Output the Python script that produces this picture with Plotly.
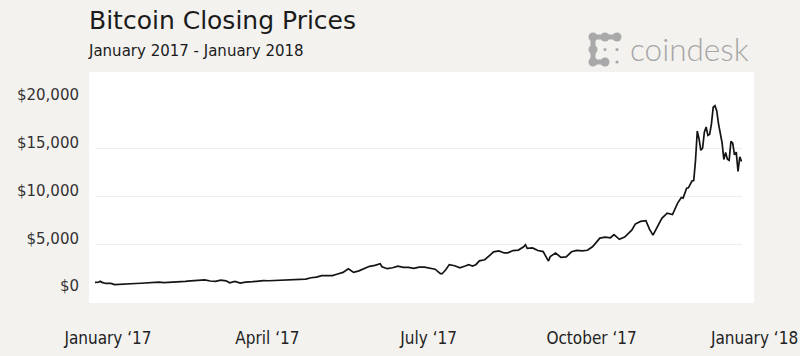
import plotly.graph_objects as go

# ---------------- data ----------------
dates = [
    "2017-01-01","2017-01-03","2017-01-04","2017-01-05","2017-01-07","2017-01-10","2017-01-12","2017-01-15",
    "2017-01-18","2017-01-21","2017-01-24","2017-01-27","2017-01-31",
    "2017-02-03","2017-02-06","2017-02-09","2017-02-12","2017-02-15","2017-02-18","2017-02-21","2017-02-24","2017-02-27",
    "2017-03-02","2017-03-04","2017-03-07","2017-03-10","2017-03-13","2017-03-16","2017-03-18","2017-03-21","2017-03-24",
    "2017-03-27","2017-03-31",
    "2017-04-03","2017-04-06","2017-04-09","2017-04-12","2017-04-15","2017-04-18","2017-04-21","2017-04-24","2017-04-27","2017-04-30",
    "2017-05-03","2017-05-06","2017-05-09","2017-05-12","2017-05-15","2017-05-18","2017-05-21","2017-05-24","2017-05-25",
    "2017-05-27","2017-05-30",
    "2017-06-02","2017-06-05","2017-06-08","2017-06-11","2017-06-12","2017-06-15","2017-06-18","2017-06-21","2017-06-24",
    "2017-06-27","2017-06-30",
    "2017-07-03","2017-07-06","2017-07-09","2017-07-12","2017-07-15","2017-07-16","2017-07-18","2017-07-20","2017-07-23",
    "2017-07-26","2017-07-29","2017-07-31",
    "2017-08-02","2017-08-04","2017-08-06","2017-08-09","2017-08-12","2017-08-14","2017-08-17","2017-08-20","2017-08-22",
    "2017-08-25","2017-08-28","2017-08-31",
    "2017-09-01","2017-09-02","2017-09-05","2017-09-08","2017-09-11","2017-09-14","2017-09-15","2017-09-18","2017-09-21",
    "2017-09-24","2017-09-27","2017-09-30",
    "2017-10-03","2017-10-06","2017-10-09","2017-10-12","2017-10-13","2017-10-16","2017-10-19","2017-10-21","2017-10-24",
    "2017-10-27","2017-10-31",
    "2017-11-02","2017-11-05","2017-11-08","2017-11-10","2017-11-12","2017-11-14","2017-11-17","2017-11-20","2017-11-23",
    "2017-11-26","2017-11-28","2017-11-29",
    "2017-12-01","2017-12-02","2017-12-03","2017-12-04","2017-12-05","2017-12-06","2017-12-07","2017-12-08","2017-12-09",
    "2017-12-10","2017-12-11","2017-12-12","2017-12-13","2017-12-14","2017-12-15","2017-12-16","2017-12-17","2017-12-18",
    "2017-12-19","2017-12-20","2017-12-21","2017-12-22","2017-12-23","2017-12-24","2017-12-25","2017-12-26","2017-12-27",
    "2017-12-28","2017-12-29","2017-12-30","2017-12-31","2018-01-01",
]
prices = [
    998, 1021, 1130, 1005, 895, 905, 780, 820,
    870, 920, 890, 918, 965,
    1010, 1025, 980, 1000, 1009, 1055, 1120, 1170, 1190,
    1220, 1260, 1150, 1110, 1235, 1175, 970, 1115, 935,
    1040, 1080,
    1145, 1195, 1180, 1205, 1185, 1210, 1250, 1250, 1345, 1350,
    1490, 1560, 1720, 1690, 1725, 1890, 2050, 2440, 2305,
    2050, 2210,
    2480, 2690, 2790, 2960, 2650, 2440, 2540, 2700, 2580,
    2580, 2480,
    2600, 2600, 2500, 2390, 1930, 1915, 2320, 2870, 2750,
    2530, 2720, 2870,
    2710, 2860, 3260, 3380, 3870, 4200, 4300, 4090, 4100,
    4340, 4390, 4730,
    4950, 4580, 4610, 4340, 4230, 3240, 3710, 4090, 3630,
    3670, 4210, 4360,
    4310, 4370, 4760, 5430, 5640, 5740, 5680, 6000, 5520,
    5760, 6470,
    7110, 7390, 7460, 6580, 5950, 6610, 7710, 8250, 8110,
    9330, 9890, 9830,
    10860, 10910, 11250, 11620, 11670, 13750, 16850, 16050, 14840,
    15060, 16730, 17280, 16400, 16530, 17600, 19340, 19500, 18960,
    17610, 16460, 15630, 13880, 14600, 13900, 13790, 15780, 15580,
    14360, 14640, 12620, 14160, 13660,
]

y_tickvals = [0, 5000, 10000, 15000, 20000]
y_ticktext = ["$0", "$5,000", "$10,000", "$15,000", "$20,000"]
x_tickvals = ["2017-01-01", "2017-04-01", "2017-07-01", "2017-10-01", "2018-01-01"]
x_ticktext = ["January \u201817", "April \u201817", "July \u201817", "October \u201817", "January \u201818"]

title_text = "Bitcoin Closing Prices"
subtitle_text = "January 2017 - January 2018"
brand_text = "coindesk"

# ---------------- layout helpers ----------------
W, H = 800, 356
ML, MR, MT, MB = 95, 58, 101, 64
PW, PH = W - ML - MR, H - MT - MB


def px(x):
    return (x - ML) / PW


def py(y):
    return (H - MB - y) / PH


fig = go.Figure()
fig.add_trace(go.Scatter(
    x=dates, y=prices, mode="lines",
    line=dict(color="#141414", width=1.7),
    hoverinfo="skip", showlegend=False,
))

shapes = [
    dict(type="rect", xref="paper", yref="paper",
         x0=px(89), x1=px(754), y0=py(303), y1=py(72),
         fillcolor="white", line=dict(width=0), layer="below"),
]

# coindesk logo icon (dots)
logo_col = "#a9a9a9"
gx = [593, 605, 617]
gy = [37, 49.5, 62]
big = [(0, 0), (1, 0), (2, 0), (0, 1), (0, 2), (1, 2)]
small = [(1, 1), (2, 1), (2, 2)]
links = [((0, 0), (1, 0)), ((1, 0), (2, 0)), ((0, 0), (0, 1)), ((0, 1), (0, 2)), ((0, 2), (1, 2))]
for (a, b) in links:
    shapes.append(dict(type="line", xref="paper", yref="paper",
                       x0=px(gx[a[0]]), y0=py(gy[a[1]]), x1=px(gx[b[0]]), y1=py(gy[b[1]]),
                       line=dict(color=logo_col, width=5)))
for (i, j) in big:
    shapes.append(dict(type="circle", xref="paper", yref="paper",
                       xsizemode="pixel", ysizemode="pixel",
                       xanchor=px(gx[i]), yanchor=py(gy[j]),
                       x0=-4.5, x1=4.5, y0=-4.5, y1=4.5,
                       fillcolor=logo_col, line=dict(width=0)))
for (i, j) in small:
    shapes.append(dict(type="circle", xref="paper", yref="paper",
                       xsizemode="pixel", ysizemode="pixel",
                       xanchor=px(gx[i]), yanchor=py(gy[j]),
                       x0=-1.6, x1=1.6, y0=-1.6, y1=1.6,
                       fillcolor=logo_col, line=dict(width=0)))

annotations = [
    dict(text=title_text, xref="paper", yref="paper", x=px(87), y=py(20),
         xanchor="left", yanchor="middle", showarrow=False,
         font=dict(family="DejaVu Sans, sans-serif", size=25, color="#1b1b1b")),
    dict(text=subtitle_text, xref="paper", yref="paper", x=px(86), y=py(51),
         xanchor="left", yanchor="middle", showarrow=False,
         font=dict(family="DejaVu Sans, sans-serif", size=15, color="#1b1b1b")),
    dict(text=brand_text, xref="paper", yref="paper", x=px(628), y=py(49),
         xanchor="left", yanchor="middle", showarrow=False,
         font=dict(family="Lato, sans-serif", size=31.5, color="#a6a6a6", weight=300)),
]

fig.update_layout(
    template="none",
    width=W, height=H,
    margin=dict(l=ML, r=MR, t=MT, b=MB, pad=0, autoexpand=False),
    paper_bgcolor="#f3f2ef",
    plot_bgcolor="white",
    shapes=shapes,
    annotations=annotations,
    xaxis=dict(
        type="date", range=["2017-01-01", "2018-01-01 06:00"],
        tickvals=x_tickvals, ticktext=x_ticktext, automargin=False,
        showgrid=False, zeroline=False, showline=False, ticks="",
        ticklabelshift=13, ticklabelstandoff=34,
        tickfont=dict(family="Liberation Sans Narrow, DejaVu Sans Condensed, Roboto, sans-serif", size=17, color="#222222"),
    ),
    yaxis=dict(
        range=[0, 20000], automargin=False,
        tickvals=y_tickvals, ticktext=y_ticktext,
        showgrid=True, gridcolor="#eeeeee", gridwidth=1,
        zeroline=False, showline=False, ticks="",
        ticklabelshift=-6, ticklabelstandoff=15,
        tickfont=dict(family="DejaVu Sans, sans-serif", size=15, color="#333333"),
    ),
)

fig.write_html("out.html", config={"displayModeBar": False},
               post_script="document.body.style.margin='0';document.body.style.padding='0';")
